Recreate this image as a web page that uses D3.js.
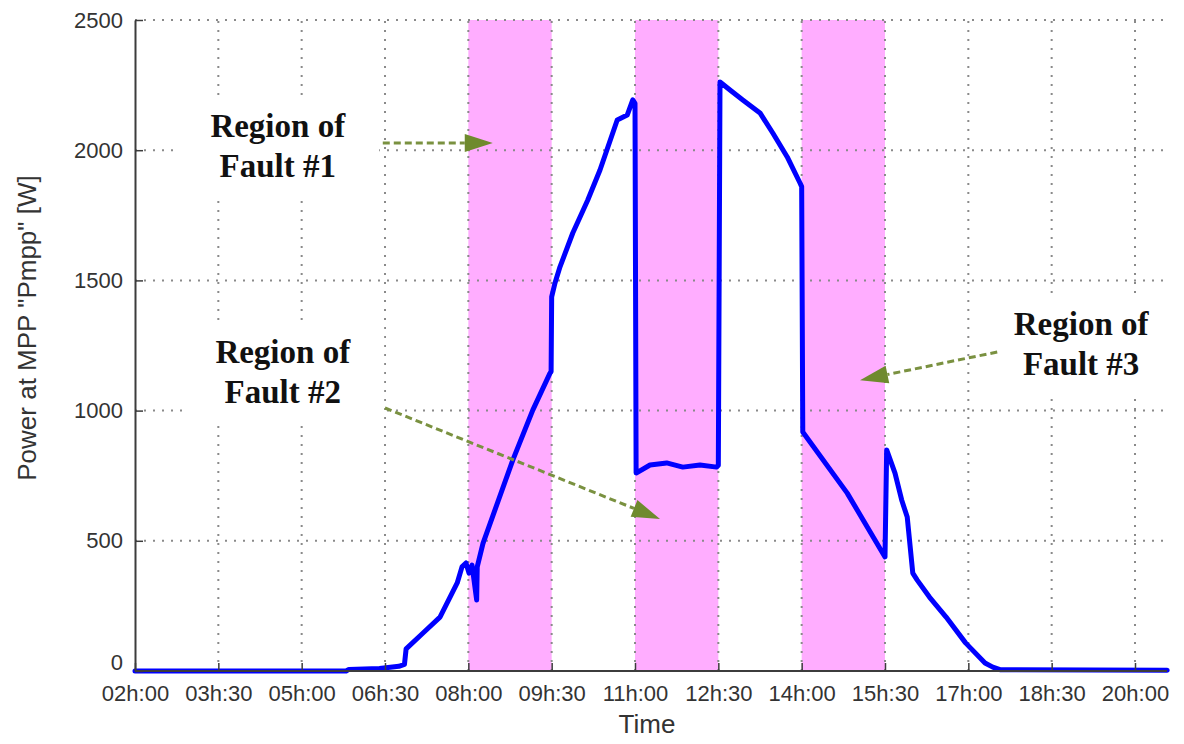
<!DOCTYPE html>
<html>
<head>
<meta charset="utf-8">
<script src="https://cdn.jsdelivr.net/npm/d3@7"></script>
<style>
  html, body { margin: 0; padding: 0; background: #fff; }
  svg { display: block; }
</style>
</head>
<body>
<svg id="chart" width="1184" height="744"></svg>
<script>
// Time of day in decimal hours, power at the maximum power point in watts
const hours = [
  2.0, 5.8, 5.85, 6.4, 6.75, 6.85, 6.88, 7.18, 7.49, 7.8, 7.886, 7.958, 8.012, 8.066,
  8.15, 8.16, 8.264, 8.8, 9.16, 9.47, 9.49, 9.5, 9.56, 9.65, 9.88, 10.15, 10.37, 10.68,
  10.86, 10.96, 11.0, 11.02, 11.27, 11.57, 11.86, 12.17, 12.47, 12.5, 12.53, 12.71,
  12.94, 13.25, 13.48, 13.74, 13.97, 14.0, 14.02, 14.82, 15.5, 15.53, 15.68, 15.8,
  15.9, 16.0, 16.08, 16.3, 16.6, 16.95, 17.3, 17.44, 17.57, 20.58
];
const power = [
  0, 0, 6, 10, 18, 25, 85, 145, 207, 338, 400, 415, 376, 407,
  273, 400, 490, 810, 1002, 1144, 1150, 1437, 1490, 1552, 1682, 1809, 1924, 2116,
  2135, 2193, 2180, 760, 791, 799, 783, 791, 783, 790, 2262, 2231,
  2193, 2143, 2066, 1974, 1874, 1860, 918, 683, 438, 849, 760, 657,
  591, 376, 349, 284, 207, 108, 31, 15, 5, 3
];

// Fault windows (start hour, end hour)
const faultStart = [8.0, 11.0, 14.0];
const faultEnd = [9.5, 12.5, 15.5];

// Axis ticks
const xTickHours = [2, 3.5, 5, 6.5, 8, 9.5, 11, 12.5, 14, 15.5, 17, 18.5, 20];
const xTickLabels = ["02h:00", "03h:30", "05h:00", "06h:30", "08h:00", "09h:30", "11h:00",
                     "12h:30", "14h:00", "15h:30", "17h:00", "18h:30", "20h:00"];
const yTickValues = [0, 500, 1000, 1500, 2000, 2500];

// Callout labels: two text lines, anchor (hour, watts) of the first baseline
const calloutLines = [["Region of", "Fault #1"], ["Region of", "Fault #2"], ["Region of", "Fault #3"]];
const calloutHour = [4.57, 4.66, 19.03];
const calloutPower = [2051, 1183, 1290];
// Arrows from callout to fault window: start and tip in (hour, watts)
const arrowFromHour = [6.46, 6.5, 17.52];
const arrowFromPower = [2028, 1010, 1225];
const arrowToHour = [8.44, 11.45, 15.05];
const arrowToPower = [2028, 584, 1117];

const svg = d3.select("#chart");
const plotLeft = 135, plotRight = 1167, plotTop = 20, plotBottom = 671;

const x = d3.scaleLinear().domain([2, 20.576]).range([plotLeft, plotRight]);
const y = d3.scaleLinear().domain([0, 2500]).range([plotBottom, plotTop]);

// Fault bands
svg.append("g").selectAll("rect")
  .data(faultStart.map((s, i) => [s, faultEnd[i]]))
  .join("rect")
  .attr("x", d => x(d[0]))
  .attr("width", d => x(d[1]) - x(d[0]))
  .attr("y", y(2500))
  .attr("height", y(0) - y(2500))
  .attr("fill", "#ffadff");

// Dotted grid
const grid = svg.append("g")
  .attr("stroke", "#8a8a8a")
  .attr("stroke-width", 2)
  .attr("stroke-dasharray", "2,7");
grid.selectAll("line.v")
  .data(xTickHours.slice(1))
  .join("line")
  .attr("class", "v")
  .attr("x1", d => x(d)).attr("x2", d => x(d))
  .attr("y1", y(0)).attr("y2", y(2500));
grid.selectAll("line.h")
  .data(yTickValues.slice(1))
  .join("line")
  .attr("class", "h")
  .attr("x1", x(2)).attr("x2", plotRight)
  .attr("y1", d => y(d)).attr("y2", d => y(d));

// Callout text with white backing that hides the grid behind it
const callouts = svg.append("g");
calloutLines.forEach((lines, i) => {
  const g = callouts.append("g");
  const bg = g.append("rect").attr("fill", "#fff");
  const t = g.append("text")
    .attr("font-family", "'Liberation Serif', 'Times New Roman', serif")
    .attr("font-weight", "bold")
    .attr("font-size", 33)
    .attr("fill", "#111")
    .attr("text-anchor", "middle");
  lines.forEach((ln, j) => {
    t.append("tspan")
      .attr("x", x(calloutHour[i]))
      .attr("y", y(calloutPower[i]) + j * 40)
      .text(ln);
  });
  const bb = t.node().getBBox();
  bg.attr("x", bb.x - 33).attr("y", bb.y - 12)
    .attr("width", bb.width + 66).attr("height", bb.height + 24);
});

// Power curve
const line = d3.line()
  .x(d => x(d[0]))
  .y(d => y(d[1]));
svg.append("path")
  .datum(hours.map((h, i) => [h, power[i]]))
  .attr("d", line)
  .attr("fill", "none")
  .attr("stroke", "#0000ff")
  .attr("stroke-width", 5)
  .attr("stroke-linejoin", "round")
  .attr("stroke-linecap", "round");

// Dashed arrows
const arrowColor = "#7a9140";
const arrows = svg.append("g");
arrowFromHour.forEach((h, i) => {
  const x0 = x(h), y0 = y(arrowFromPower[i]);
  const x1 = x(arrowToHour[i]), y1 = y(arrowToPower[i]);
  const ang = Math.atan2(y1 - y0, x1 - x0);
  const len = 28, half = 9;
  const bx = x1 - len * Math.cos(ang), by = y1 - len * Math.sin(ang);
  arrows.append("line")
    .attr("x1", x0).attr("y1", y0).attr("x2", bx).attr("y2", by)
    .attr("stroke", arrowColor)
    .attr("stroke-width", 3)
    .attr("stroke-dasharray", "7,4");
  const px = -Math.sin(ang), py = Math.cos(ang);
  arrows.append("path")
    .attr("d", `M${x1},${y1}L${bx + px * half},${by + py * half}L${bx - px * half},${by - py * half}Z`)
    .attr("fill", "#6f8a2e");
});

// Axes
const axisColor = "#3c3c3c";
const xAxis = d3.axisBottom(x)
  .tickValues(xTickHours)
  .tickFormat((d, i) => xTickLabels[i])
  .tickSizeInner(-8).tickSizeOuter(0).tickPadding(14);
const gx = svg.append("g").attr("transform", `translate(0,${plotBottom})`).call(xAxis);
gx.select(".domain").attr("stroke", axisColor).attr("stroke-width", 2).attr("d", `M${plotLeft},0H${plotRight}`);
gx.selectAll(".tick line").attr("stroke", axisColor).attr("stroke-width", 1.5);
gx.selectAll(".tick text")
  .attr("font-family", "'Liberation Sans', Arial, sans-serif")
  .attr("font-size", 22)
  .attr("fill", "#333");

const yAxis = d3.axisLeft(y)
  .tickValues(yTickValues)
  .tickFormat(d3.format("d"))
  .tickSizeInner(-8).tickSizeOuter(0).tickPadding(12);
const gy = svg.append("g").attr("transform", `translate(${plotLeft},0)`).call(yAxis);
gy.select(".domain").attr("stroke", axisColor).attr("stroke-width", 2);
gy.selectAll(".tick line").attr("stroke", axisColor).attr("stroke-width", 1.5);
gy.selectAll(".tick text")
  .attr("font-family", "'Liberation Sans', Arial, sans-serif")
  .attr("font-size", 22)
  .attr("fill", "#333")
  .attr("dy", d => d === 0 ? "-0.05em" : "0.32em");

// Axis titles
svg.append("text")
  .attr("x", 647).attr("y", 733)
  .attr("text-anchor", "middle")
  .attr("font-family", "'Liberation Sans', Arial, sans-serif")
  .attr("font-size", 26)
  .attr("fill", "#333")
  .text("Time");
svg.append("text")
  .attr("transform", "translate(36,328) rotate(-90)")
  .attr("text-anchor", "middle")
  .attr("font-family", "'Liberation Sans', Arial, sans-serif")
  .attr("font-size", 26)
  .attr("fill", "#333")
  .text("Power at MPP \"Pmpp\" [W]");
</script>
</body>
</html>
